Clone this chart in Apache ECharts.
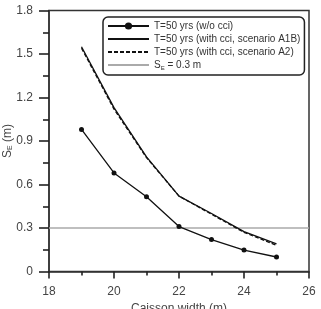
<!DOCTYPE html>
<html><head><meta charset="utf-8">
<script src="https://cdn.jsdelivr.net/npm/echarts@6/dist/echarts.min.js"></script>
<style>html,body{margin:0;padding:0;background:#fff}#c{width:321px;height:309px}</style>
</head><body><div id="c"></div>
<script>
const widths = [19, 20, 21, 22, 23, 24, 25];
const woCci = [0.98, 0.68, 0.515, 0.31, 0.22, 0.148, 0.10];
const a1b = [1.55, 1.13, 0.79, 0.52, 0.40, 0.275, 0.19];
const a2 = [1.54, 1.12, 0.785, 0.52, 0.395, 0.27, 0.18];
const threshold = 0.3;
const xRange = [18, 26];
const seriesNames = ['T=50 yrs (w/o cci)', 'T=50 yrs (with cci, scenario A1B)', 'T=50 yrs (with cci, scenario A2)', 'SE = 0.3 m'];

const pair = (xs, ys) => xs.map((x, i) => [x, ys[i]]);
const font = 'Liberation Sans, Arial, sans-serif';
const chart = echarts.init(document.getElementById('c'));
chart.setOption({
  animation: false,
  textStyle: { fontFamily: font },
  grid: { left: 49, right: 12, top: 10.5, bottom: 37.5, show: true, borderColor: '#333', borderWidth: 1.5,
    containLabel: false, outerBoundsMode: 'none' },
  legend: {
    orient: 'vertical', left: 103, top: 17, width: 199,
    padding: [4, 4, 4, 4], itemGap: 3, itemWidth: 41, itemHeight: 9,
    borderColor: '#222', borderWidth: 1.5, borderRadius: 5,
    textStyle: { fontSize: 10, color: '#333', fontFamily: font,
      rich: { s: { fontSize: 10, color: '#333' }, sub: { fontSize: 6, color: '#333', verticalAlign: 'bottom', padding: [6, 0, 0, 0] } } },
    formatter: n => n === seriesNames[3] ? '{s|S}{sub|E}{s| = 0.3 m}' : n,
    data: [
      { name: seriesNames[0] },
      { name: seriesNames[1], itemStyle: { opacity: 0 } },
      { name: seriesNames[2], itemStyle: { opacity: 0 } },
      { name: seriesNames[3], itemStyle: { opacity: 0 } }
    ]
  },
  xAxis: {
    type: 'value', min: xRange[0], max: xRange[1], interval: 2,
    axisLine: { lineStyle: { color: '#333', width: 1.5 } },
    axisTick: { show: true, inside: false, length: 7, lineStyle: { color: '#222', width: 1.6 } },
    minorTick: { show: true, splitNumber: 2, length: 4, lineStyle: { color: '#222', width: 1.6 } },
    splitLine: { show: false },
    axisLabel: { fontSize: 12, color: '#444', margin: 14 },
    name: 'Caisson width (m)', nameLocation: 'middle', nameGap: 31, nameMoveOverlap: false,
    nameTextStyle: { fontSize: 12, color: '#444' }
  },
  yAxis: {
    type: 'value', min: 0, max: 1.8, interval: 0.3,
    axisLine: { lineStyle: { color: '#333', width: 1.5 } },
    axisTick: { show: true, inside: false, length: 10, lineStyle: { color: '#222', width: 1.6 } },
    minorTick: { show: true, splitNumber: 2, length: 6, lineStyle: { color: '#222', width: 1.6 } },
    splitLine: { show: false },
    axisLabel: { fontSize: 12, color: '#444', margin: 16 },
    name: '{s|S}{sub|E}{s| (m)}', nameLocation: 'middle', nameGap: 35, nameMoveOverlap: false,
    nameTextStyle: { rich: { s: { fontSize: 12, color: '#444' }, sub: { fontSize: 7, color: '#444', verticalAlign: 'bottom', padding: [6, 0, 0, 0] } } }
  },
  series: [
    { name: seriesNames[0], type: 'line', data: pair(widths, woCci), symbol: 'circle', symbolSize: 5,
      itemStyle: { color: '#111' }, lineStyle: { color: '#111', width: 1.3 }, z: 5 },
    { name: seriesNames[1], type: 'line', data: pair(widths, a1b), symbol: 'none',
      itemStyle: { color: '#111' }, lineStyle: { color: '#111', width: 1.3 }, z: 4 },
    { name: seriesNames[2], type: 'line', data: pair(widths, a2), symbol: 'none',
      itemStyle: { color: '#111' }, lineStyle: { color: '#111', width: 1.3, type: [4, 2] }, z: 4 },
    { name: seriesNames[3], type: 'line', data: pair(xRange, [threshold, threshold]), symbol: 'none',
      itemStyle: { color: '#aaa' }, lineStyle: { color: '#aaa', width: 1.5 }, z: 2 }
  ]
});
</script></body></html>
